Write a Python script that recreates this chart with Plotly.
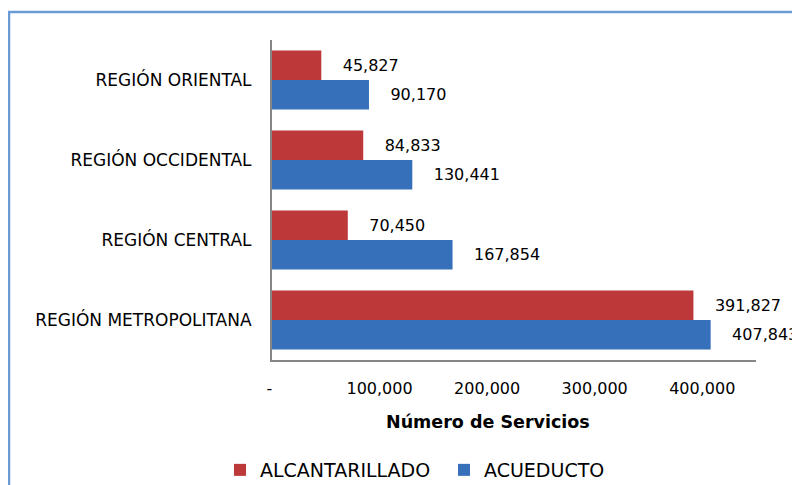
import plotly.graph_objects as go

# Data (categories listed bottom-to-top as plotly draws them)
regions = ["REGIÓN METROPOLITANA", "REGIÓN CENTRAL", "REGIÓN OCCIDENTAL", "REGIÓN ORIENTAL"]
acueducto = [407843, 167854, 130441, 90170]
alcantarillado = [391827, 70450, 84833, 45827]
x_tickvals = [0, 100000, 200000, 300000, 400000]
x_ticktext = ["-\u00a0", "100,000", "200,000", "300,000", "400,000"]

FONT = "DejaVu Sans"
RED = "#bd3838"
BLUE = "#3670ba"

# page places the figure at an 8px body margin; work in screenshot pixels
OFF = 8
W, H = 800 - OFF, 485 - OFF
L, R, T, B = 272 - OFF, 756 - OFF, 40 - OFF, 360 - OFF
pw, ph = R - L, B - T


def px_x(p):
    return (p - OFF - L) / pw


def px_y(p):
    return (B - (p - OFF)) / ph


LABEL = "\u00a0\u00a0\u00a0\u2009%{x:,}"

fig = go.Figure()
fig.add_trace(go.Bar(
    y=regions, x=acueducto, orientation="h", name="ACUEDUCTO",
    marker=dict(color=BLUE, line=dict(width=0)),
    texttemplate=LABEL, textposition="outside",
    textfont=dict(family=FONT, size=16, color="#000000"),
    constraintext="none", cliponaxis=False,
))
fig.add_trace(go.Bar(
    y=regions, x=alcantarillado, orientation="h", name="ALCANTARILLADO",
    marker=dict(color=RED, line=dict(width=0)),
    texttemplate=LABEL, textposition="outside",
    textfont=dict(family=FONT, size=16, color="#000000"),
    constraintext="none", cliponaxis=False,
))

fig.update_layout(
    width=W, height=H,
    margin=dict(l=L, r=W - R, t=T, b=H - B, pad=0, autoexpand=False),
    paper_bgcolor="white", plot_bgcolor="white",
    barmode="group", bargap=0.2625, bargroupgap=0,
    font=dict(family=FONT, size=16, color="#000000"),
    xaxis=dict(
        range=[0, 450000], tickvals=x_tickvals, ticktext=x_ticktext,
        showgrid=False, zeroline=False, showline=True,
        linecolor="#868686", linewidth=2, ticks="",
        ticklabelstandoff=13,
        tickfont=dict(family=FONT, size=16, color="#000000"),
    ),
    yaxis=dict(
        showgrid=False, zeroline=False, showline=True,
        linecolor="#868686", linewidth=2, ticks="",
        ticklabelstandoff=15,
        tickfont=dict(family=FONT, size=17, color="#000000"),
    ),
    legend=dict(
        orientation="h", traceorder="reversed",
        x=px_x(220), xanchor="left", y=px_y(470), yanchor="middle",
        font=dict(family=FONT, size=19, color="#000000"),
        bgcolor="rgba(0,0,0,0)",
        entrywidth=179, entrywidthmode="pixels",
    ),
    annotations=[dict(
        text="<b>Número de Servicios</b>", xref="paper", yref="paper",
        x=px_x(488), y=px_y(422), xanchor="center", yanchor="middle",
        showarrow=False, font=dict(family=FONT, size=17.5, color="#000000"),
    )],
    shapes=[dict(
        type="rect", xref="paper", yref="paper",
        x0=px_x(9), x1=px_x(812), y0=px_y(500), y1=px_y(12),
        line=dict(color="#6b9bd5", width=2.5), fillcolor="rgba(0,0,0,0)",
        layer="below",
    )],
)

fig.write_html("out.html")
